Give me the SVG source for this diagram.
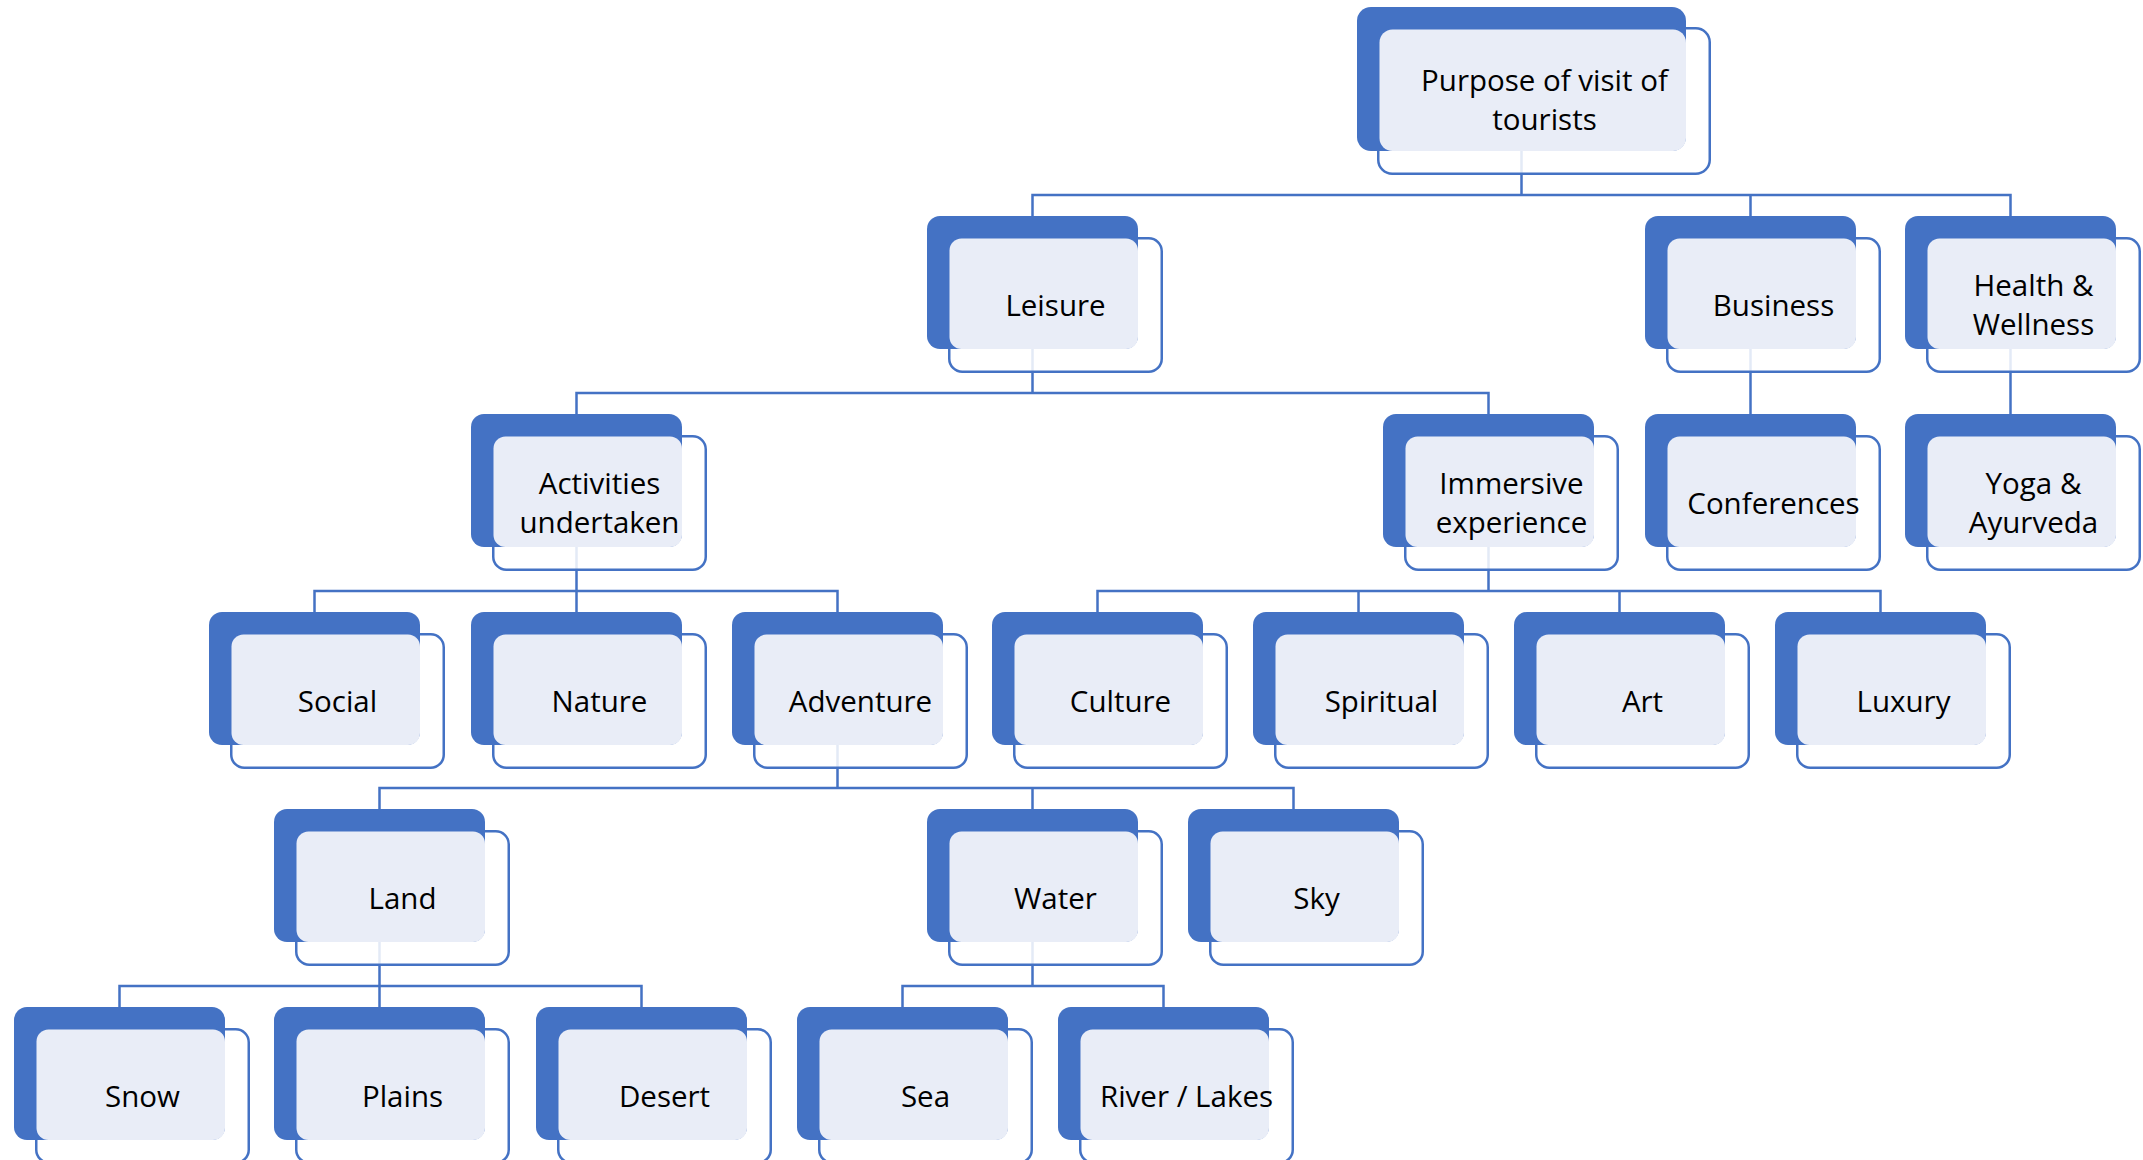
<svg xmlns="http://www.w3.org/2000/svg" width="2143" height="1160" viewBox="0 0 2143 1160">
  <style>
    .conn { fill: none; stroke: #4472C4; stroke-width: 2.5; }
    .front { fill: #FFFFFF; fill-opacity: 0.85; stroke: #4472C4; stroke-width: 2.5; }
    .back { fill: #4472C4; }
    .face { fill: #E9EDF7; }
    .lbl { font-family: "Open Sans", "Noto Sans", "Liberation Sans", sans-serif; font-size: 29.5px; text-anchor: middle; fill: #000000; }
  </style>
  <defs>
    <!-- standard node body: outline card, solid accent card, tinted text face -->
    <g id="card">
      <rect class="front" x="22.25" y="22.25" width="212.5" height="133.5" rx="13"/>
      <rect class="back" x="0" y="0" width="211" height="133" rx="13"/>
      <rect class="face" x="22.5" y="22.5" width="188.5" height="110.5" rx="12"/>
    </g>
  </defs>
  <rect width="2143" height="1160" fill="#FFFFFF"/>

  <!-- tree connectors -->
  <g id="connectors">
    <path class="conn" d="M1521.5 151V195 M1032.5 216V195H2010.5V216 M1750.5 195V216"/>
    <path class="conn" d="M1032.5 349V393 M576.5 414V393H1488.5V414"/>
    <path class="conn" d="M1750.5 349V414"/>
    <path class="conn" d="M2010.5 349V414"/>
    <path class="conn" d="M576.5 547V612 M314.5 612V591H837.5V612"/>
    <path class="conn" d="M1488.5 547V591 M1097.5 612V591H1880.5V612 M1358.5 591V612 M1619.5 591V612"/>
    <path class="conn" d="M837.5 745V788 M379.5 809V788H1293.5V809 M1032.5 788V809"/>
    <path class="conn" d="M379.5 942V1007 M119.5 1007V986H641.5V1007"/>
    <path class="conn" d="M1032.5 942V986 M902.5 1007V986H1163.5V1007"/>
  </g>

  <!-- root -->
  <g id="node-purpose">
    <rect class="front" x="1378.25" y="28.25" width="331.5" height="145.5" rx="14"/>
    <rect class="back" x="1357" y="7" width="329" height="144" rx="14"/>
    <rect class="face" x="1379.5" y="29.5" width="306.5" height="121.5" rx="13"/>
    <text class="lbl" x="1544.5" y="90.5">Purpose of visit of</text>
    <text class="lbl" x="1544.5" y="129.5">tourists</text>
  </g>

  <!-- level 1 -->
  <g id="node-leisure" transform="translate(927 216)">
    <use href="#card"/>
    <text class="lbl" x="128.5" y="99.5">Leisure</text>
  </g>
  <g id="node-business" transform="translate(1645 216)">
    <use href="#card"/>
    <text class="lbl" x="128.5" y="99.5">Business</text>
  </g>
  <g id="node-health" transform="translate(1905 216)">
    <use href="#card"/>
    <text class="lbl" x="128.5" y="80">Health &amp;</text>
    <text class="lbl" x="128.5" y="119">Wellness</text>
  </g>

  <!-- level 2 -->
  <g id="node-activities" transform="translate(471 414)">
    <use href="#card"/>
    <text class="lbl" x="128.5" y="80">Activities</text>
    <text class="lbl" x="128.5" y="119">undertaken</text>
  </g>
  <g id="node-immersive" transform="translate(1383 414)">
    <use href="#card"/>
    <text class="lbl" x="128.5" y="80">Immersive</text>
    <text class="lbl" x="128.5" y="119">experience</text>
  </g>
  <g id="node-conferences" transform="translate(1645 414)">
    <use href="#card"/>
    <text class="lbl" x="128.5" y="99.5">Conferences</text>
  </g>
  <g id="node-yoga" transform="translate(1905 414)">
    <use href="#card"/>
    <text class="lbl" x="128.5" y="80">Yoga &amp;</text>
    <text class="lbl" x="128.5" y="119">Ayurveda</text>
  </g>

  <!-- level 3 -->
  <g id="node-social" transform="translate(209 612)">
    <use href="#card"/>
    <text class="lbl" x="128.5" y="99.5">Social</text>
  </g>
  <g id="node-nature" transform="translate(471 612)">
    <use href="#card"/>
    <text class="lbl" x="128.5" y="99.5">Nature</text>
  </g>
  <g id="node-adventure" transform="translate(732 612)">
    <use href="#card"/>
    <text class="lbl" x="128.5" y="99.5">Adventure</text>
  </g>
  <g id="node-culture" transform="translate(992 612)">
    <use href="#card"/>
    <text class="lbl" x="128.5" y="99.5">Culture</text>
  </g>
  <g id="node-spiritual" transform="translate(1253 612)">
    <use href="#card"/>
    <text class="lbl" x="128.5" y="99.5">Spiritual</text>
  </g>
  <g id="node-art" transform="translate(1514 612)">
    <use href="#card"/>
    <text class="lbl" x="128.5" y="99.5">Art</text>
  </g>
  <g id="node-luxury" transform="translate(1775 612)">
    <use href="#card"/>
    <text class="lbl" x="128.5" y="99.5">Luxury</text>
  </g>

  <!-- level 4 -->
  <g id="node-land" transform="translate(274 809)">
    <use href="#card"/>
    <text class="lbl" x="128.5" y="99.5">Land</text>
  </g>
  <g id="node-water" transform="translate(927 809)">
    <use href="#card"/>
    <text class="lbl" x="128.5" y="99.5">Water</text>
  </g>
  <g id="node-sky" transform="translate(1188 809)">
    <use href="#card"/>
    <text class="lbl" x="128.5" y="99.5">Sky</text>
  </g>

  <!-- level 5 -->
  <g id="node-snow" transform="translate(14 1007)">
    <use href="#card"/>
    <text class="lbl" x="128.5" y="99.5">Snow</text>
  </g>
  <g id="node-plains" transform="translate(274 1007)">
    <use href="#card"/>
    <text class="lbl" x="128.5" y="99.5">Plains</text>
  </g>
  <g id="node-desert" transform="translate(536 1007)">
    <use href="#card"/>
    <text class="lbl" x="128.5" y="99.5">Desert</text>
  </g>
  <g id="node-sea" transform="translate(797 1007)">
    <use href="#card"/>
    <text class="lbl" x="128.5" y="99.5">Sea</text>
  </g>
  <g id="node-river" transform="translate(1058 1007)">
    <use href="#card"/>
    <text class="lbl" x="128.5" y="99.5">River / Lakes</text>
  </g>
</svg>
